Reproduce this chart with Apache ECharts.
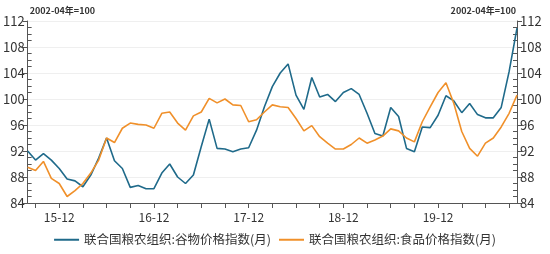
<!DOCTYPE html>
<html><head><meta charset="utf-8">
<script src="https://cdn.jsdelivr.net/npm/echarts@6/dist/echarts.min.js"></script>
<style>html,body{margin:0;padding:0;background:#fff}#c{width:550px;height:254px}</style>
</head><body><div id="c"></div>
<script>
const categories = [
"15-08","15-09","15-10","15-11","15-12",
"16-01","16-02","16-03","16-04","16-05","16-06","16-07","16-08","16-09","16-10","16-11","16-12",
"17-01","17-02","17-03","17-04","17-05","17-06","17-07","17-08","17-09","17-10","17-11","17-12",
"18-01","18-02","18-03","18-04","18-05","18-06","18-07","18-08","18-09","18-10","18-11","18-12",
"19-01","19-02","19-03","19-04","19-05","19-06","19-07","19-08","19-09","19-10","19-11","19-12",
"20-01","20-02","20-03","20-04","20-05","20-06","20-07","20-08","20-09","20-10"];
const cerealName = "联合国粮农组织:谷物价格指数(月)";
const foodName = "联合国粮农组织:食品价格指数(月)";
const cereal = [92.0,90.6,91.6,90.6,89.3,87.7,87.4,86.5,88.3,90.9,94.0,90.5,89.3,86.4,86.7,86.2,86.2,
88.6,90.0,88.0,87.0,88.3,92.7,96.9,92.4,92.3,91.9,92.3,92.5,95.2,98.8,101.9,104.0,105.4,100.6,98.4,
103.3,100.3,100.7,99.6,101.0,101.6,100.7,97.8,94.7,94.3,98.7,97.3,92.4,91.9,95.7,95.6,97.5,
100.5,99.7,97.9,99.3,97.6,97.1,97.1,98.7,104.2,110.9];
const food = [89.5,89.0,90.4,87.8,87.0,85.0,85.9,87.0,88.6,90.6,94.0,93.3,95.5,96.3,96.1,96.0,95.5,
97.8,98.0,96.3,95.2,97.4,98.0,100.1,99.4,100.0,99.1,99.0,96.5,96.8,98.0,99.1,98.8,98.7,97.0,95.1,
95.9,94.2,93.2,92.3,92.3,93.0,94.0,93.2,93.7,94.3,95.4,95.1,94.0,93.4,96.5,98.8,101.0,
102.5,99.3,95.0,92.4,91.2,93.2,94.0,95.7,97.8,100.6];
const yTicks = {min:84, max:112, interval:4};
const axisName = "2002-04年=100";

const font = "'Noto Sans CJK SC','Microsoft YaHei',sans-serif";
const axisColor = '#555';
const chart = echarts.init(document.getElementById('c'), null, {renderer:'canvas'});
function mainY(pos){
  return {
    type:'value', position:pos, min:yTicks.min, max:yTicks.max, interval:yTicks.interval,
    name: axisName, nameLocation:'end', nameGap:7,
    nameTextStyle:{fontSize:9, fontWeight:'bold', color:'#333', fontFamily:font,
      align: pos==='left'?'left':'right', verticalAlign:'middle',
      padding: pos==='left'?[0,0,0,2]:[0,1,0,0]},
    axisLine:{show:true, lineStyle:{color:axisColor, width:1}},
    axisTick:{show:true, inside:false, length:5, lineStyle:{color:axisColor}},
    axisLabel:{color:'#333', fontSize:13, fontFamily:font, margin:3},
    splitLine:{show: pos==='left', lineStyle:{color:'#efefef', width:1}}
  };
}
function minorY(pos){
  return {
    type:'value', position:pos, min:yTicks.min, max:yTicks.max, interval:yTicks.interval,
    axisLine:{show:false}, axisLabel:{show:false}, splitLine:{show:false},
    axisTick:{show:false, inside:true},
    minorTick:{show:true, splitNumber:4, length:4, lineStyle:{color:axisColor}}
  };
}
chart.setOption({
  animation:false,
  grid:{left:27, right:33, top:21, bottom:51, containLabel:false},
  legend:{
    bottom:3, left:'center', itemGap:8, itemWidth:25, itemHeight:2,
    icon:'rect',
    textStyle:{fontSize:12.5, color:'#333', fontFamily:font},
    data:[cerealName, foodName]
  },
  xAxis:{
    type:'category', data:categories, boundaryGap:false,
    axisLine:{show:true, lineStyle:{color:axisColor}},
    axisTick:{show:true, length:5, lineStyle:{color:axisColor},
      interval:(i,v)=>parseInt(v.slice(3),10)%3===0},
    axisLabel:{color:'#333', fontSize:12, fontFamily:font, margin:8,
      interval:(i,v)=>v.slice(3)==='12'},
    splitLine:{show:false}
  },
  yAxis:[mainY('left'), mainY('right'), minorY('left'), minorY('right')],
  series:[
    {name:cerealName, type:'line', data:cereal, yAxisIndex:0, symbol:'none',
     lineStyle:{color:'#1f6a8a', width:1.6}, itemStyle:{color:'#1f6a8a'}},
    {name:foodName, type:'line', data:food, yAxisIndex:1, symbol:'none',
     lineStyle:{color:'#f0902a', width:1.6}, itemStyle:{color:'#f0902a'}}
  ]
});
</script></body></html>
